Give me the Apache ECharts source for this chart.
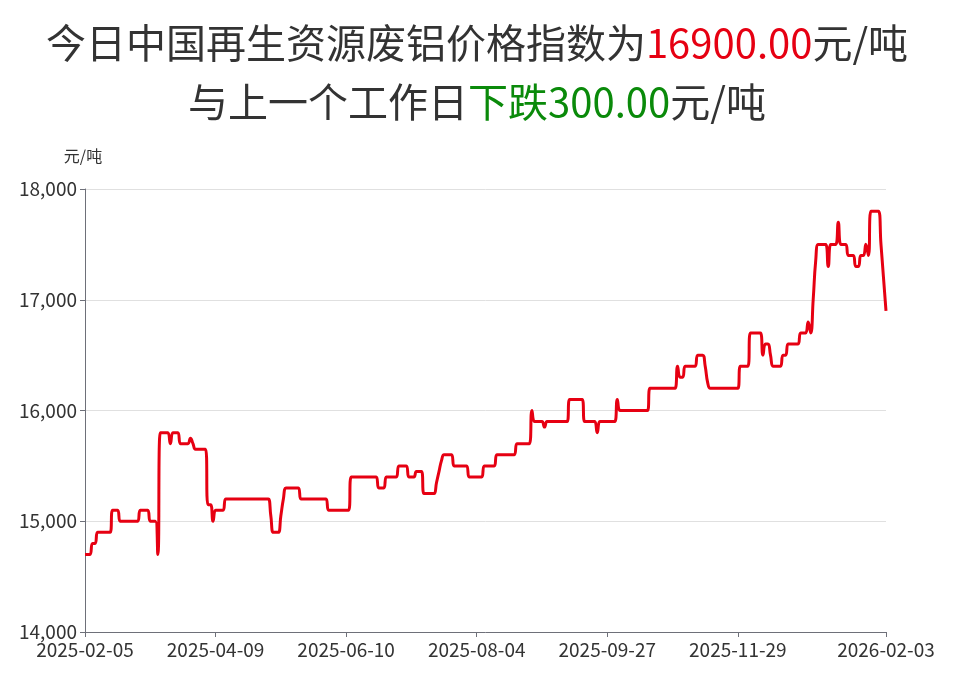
<!DOCTYPE html>
<html>
<head>
<meta charset="utf-8">
<script src="https://cdn.jsdelivr.net/npm/echarts@6/dist/echarts.min.js"></script>
<style>
html,body{margin:0;padding:0;background:#fff;}
#chart{width:954px;height:690px;}
</style>
</head>
<body>
<div id="chart"></div>
<script>
// Trading dates per month (days with data)
const days2025_02 = [5,6,7,8,10,11,12,13,14,15,17,18,19,20,21,22,24,25,26,27,28];
const days2025_03 = [1,3,4,5,6,7,8,10,11,12,13,14,15,17,18,19,20,21,22,24,25,26,27,28,29,31];
const days2025_04 = [1,2,3,7,8,9,10,11,12,14,15,16,17,18,19,21,22,23,24,25,26,28,29,30];
const days2025_05 = [2,3,5,6,7,8,9,10,12,13,14,15,16,17,19,20,21,22,23,24,26,27,28,29,30,31];
const days2025_06 = [2,3,4,5,6,7,9,10,11,12,13,14,16,17,18,19,20,21,23,24,25,26,27,28,30];
const days2025_07 = [1,2,3,4,5,6,7,8,9,10,11,12,13,14,15,16,17,18,19,20,21,22,23,24,25,26,27,28,29,30,31];
const days2025_08 = [1,2,3,4,5,6,7,8,9,11,12,13,14,15,16,18,19,20,21,22,23,24,25,26,27,28,29,30,31];
const days2025_09 = [1,2,3,4,5,6,7,8,9,10,11,12,13,14,15,16,17,18,19,20,21,22,23,24,25,26,27,28,29,30];
const days2025_10 = [9,10,11,13,14,15,16,17,18,20,21,22,23,24,25,27,28,29,30,31];
const days2025_11 = [1,2,3,4,5,6,7,8,9,10,11,12,13,14,15,16,17,18,19,20,21,22,23,24,25,26,27,28,29];
const days2025_12 = [1,2,3,4,5,6,8,9,10,11,12,13,15,16,17,18,19,20,22,23,24,25,26,27,29,30,31];
const days2026_01 = [2,3,5,6,7,8,9,10,11,12,13,14,15,16,17,18,19,20,21,22,23,24,25,26,27,28,29,30,31];
const days2026_02 = [1,2,3];

const monthList = [
  ['2025-02', days2025_02], ['2025-03', days2025_03], ['2025-04', days2025_04],
  ['2025-05', days2025_05], ['2025-06', days2025_06], ['2025-07', days2025_07],
  ['2025-08', days2025_08], ['2025-09', days2025_09], ['2025-10', days2025_10],
  ['2025-11', days2025_11], ['2025-12', days2025_12], ['2026-01', days2026_01],
  ['2026-02', days2026_02]
];
const categories = [];
monthList.forEach(([m, ds]) => ds.forEach(d => categories.push(m + '-' + String(d).padStart(2, '0'))));

// Index values (元/吨)
const priceValues = [
  14700,14700,14700,14800,14800,14900,14900,14900,14900,14900,
  14900,15100,15100,15100,15000,15000,15000,15000,15000,15000,
  15000,15000,15100,15100,15100,15100,15000,15000,15000,14700,
  15800,15800,15800,15800,15700,15800,15800,15800,15700,15700,
  15700,15700,15750,15700,15650,15650,15650,15650,15650,15150,
  15150,15000,15100,15100,15100,15100,15200,15200,15200,15200,
  15200,15200,15200,15200,15200,15200,15200,15200,15200,15200,
  15200,15200,15200,15200,15050,14900,14900,14900,15050,15200,
  15300,15300,15300,15300,15300,15300,15200,15200,15200,15200,
  15200,15200,15200,15200,15200,15200,15200,15100,15100,15100,
  15100,15100,15100,15100,15100,15100,15400,15400,15400,15400,
  15400,15400,15400,15400,15400,15400,15400,15300,15300,15300,
  15400,15400,15400,15400,15400,15500,15500,15500,15500,15400,
  15400,15400,15450,15450,15450,15250,15250,15250,15250,15250,
  15350,15450,15550,15600,15600,15600,15600,15500,15500,15500,
  15500,15500,15500,15400,15400,15400,15400,15400,15400,15500,
  15500,15500,15500,15500,15600,15600,15600,15600,15600,15600,
  15600,15600,15700,15700,15700,15700,15700,15700,16000,15900,
  15900,15900,15900,15850,15900,15900,15900,15900,15900,15900,
  15900,15900,15900,16100,16100,16100,16100,16100,16100,15900,
  15900,15900,15900,15900,15800,15900,15900,15900,15900,15900,
  15900,15900,16100,16000,16000,16000,16000,16000,16000,16000,
  16000,16000,16000,16000,16000,16200,16200,16200,16200,16200,
  16200,16200,16200,16200,16200,16200,16400,16300,16300,16400,
  16400,16400,16400,16400,16500,16500,16500,16400,16250,16200,
  16200,16200,16200,16200,16200,16200,16200,16200,16200,16200,
  16200,16400,16400,16400,16400,16700,16700,16700,16700,16700,
  16500,16600,16600,16500,16400,16400,16400,16400,16500,16500,
  16600,16600,16600,16600,16600,16700,16700,16700,16800,16700,
  17000,17350,17500,17500,17500,17500,17300,17500,17500,17500,
  17700,17500,17500,17500,17400,17400,17400,17300,17300,17400,
  17400,17500,17400,17800,17800,17800,17800,17500,17200,16900
];

const yTicks = { min: 14000, max: 18000, interval: 1000 };
const labelStep = 52;
const titleLatest = '16900.00';
const titleChange = '300.00';

const lastIdx = categories.length - 1;
const showLabel = (i) => i === lastIdx || (i % labelStep === 0 && i <= lastIdx - labelStep);

const chart = echarts.init(document.getElementById('chart'), null, { renderer: 'canvas' });
const FONT = "'Noto Sans CJK SC', 'Noto Sans', sans-serif";
chart.setOption({
  animation: false,
  backgroundColor: '#fff',
  title: {
    left: 'center',
    top: 8,
    text: '{g|今日中国再生资源废铝价格指数为}{r|' + titleLatest + '}{g|元/吨}\n{g|与上一个工作日}{gr|下跌' + titleChange + '}{g|元/吨}',
    textStyle: {
      fontFamily: FONT,
      fontSize: 40,
      fontWeight: 'normal',
      lineHeight: 59,
      rich: {
        g: { color: '#333', fontSize: 40, fontWeight: 'normal', fontFamily: FONT, lineHeight: 59 },
        r: { color: '#e60012', fontSize: 40, fontWeight: 'normal', fontFamily: FONT, lineHeight: 59 },
        gr: { color: '#0a8a0a', fontSize: 40, fontWeight: 'normal', fontFamily: FONT, lineHeight: 59 }
      }
    }
  },
  grid: { left: 85, right: 68, top: 189, bottom: 58, outerBoundsMode: 'none' },
  xAxis: {
    type: 'category',
    data: categories,
    boundaryGap: false,
    axisLine: { show: true, lineStyle: { color: '#6e7079', width: 1 } },
    axisTick: { show: true, interval: (i) => showLabel(i), length: 5, lineStyle: { color: '#6e7079' } },
    axisLabel: {
      interval: (i) => showLabel(i),
      color: '#333',
      fontSize: 19,
      fontFamily: FONT,
      margin: 8
    },
    splitLine: { show: false }
  },
  yAxis: {
    type: 'value',
    min: yTicks.min,
    max: yTicks.max,
    interval: yTicks.interval,
    name: '元/吨',
    nameGap: 25,
    nameTextStyle: { color: '#333', fontSize: 16, fontFamily: FONT, align: 'center', padding: [0, 0, 0, -4] },
    axisLine: { show: true, lineStyle: { color: '#6e7079', width: 1 } },
    axisTick: { show: true, length: 5, lineStyle: { color: '#6e7079' } },
    axisLabel: { color: '#333', fontSize: 19, fontFamily: FONT, margin: 8 },
    splitLine: { show: true, lineStyle: { color: '#e0e0e0' } }
  },
  series: [{
    type: 'line',
    data: priceValues,
    smooth: true,
    showSymbol: false,
    symbol: 'none',
    lineStyle: { color: '#e60012', width: 3 },
    itemStyle: { color: '#e60012' }
  }]
});
</script>
</body>
</html>
